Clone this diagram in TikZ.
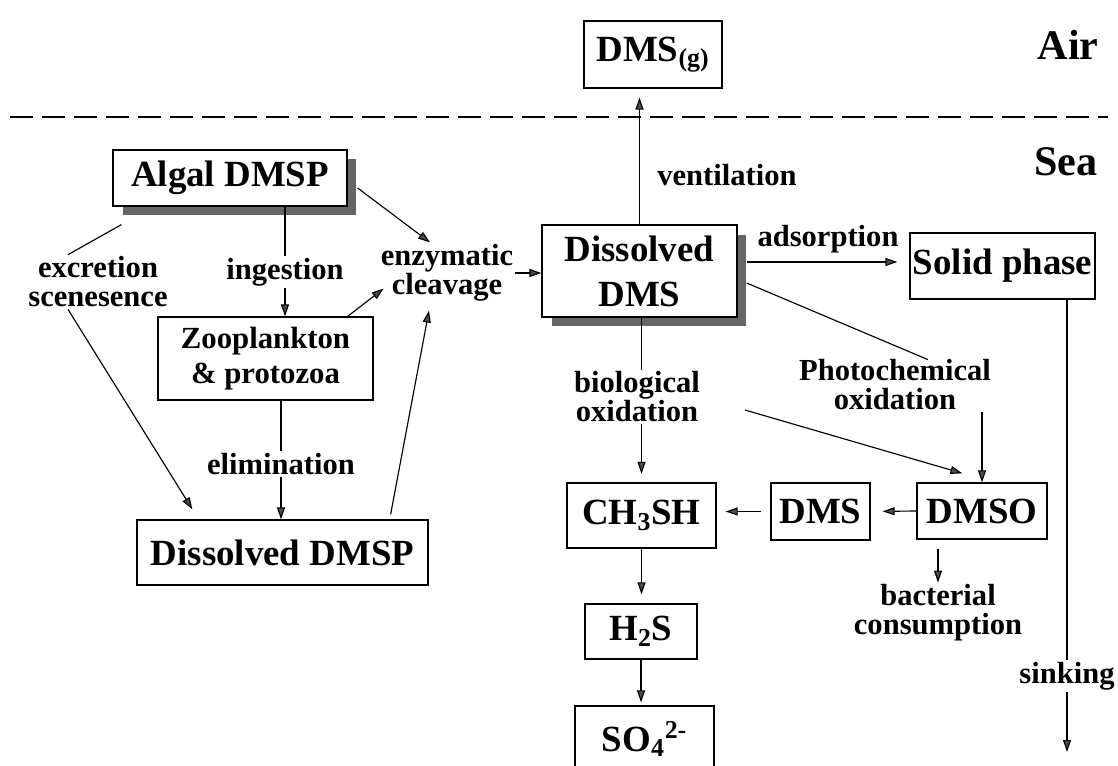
\documentclass[tikz,border=0pt]{standalone}
\usepackage{fontspec}
\setmainfont{Liberation Serif}
\usetikzlibrary{arrows.meta, calc, shadows}

\begin{document}
\begin{tikzpicture}[x=0.02cm, y=-0.02cm,
  box/.style={draw, line width=0.75pt, fill=white, inner sep=0pt, align=center,
    font=\fontsize{21}{25.6}\selectfont\bfseries},
  shadowed/.style={drop shadow={shadow xshift=0.19cm, shadow yshift=-0.19cm,
    fill=black!60, opacity=1}},
  lbl/.style={inner sep=1pt, align=center, font=\fontsize{17.4}{16.5}\selectfont\bfseries},
  zone/.style={inner sep=0pt, font=\fontsize{24}{26}\selectfont\bfseries},
  ln/.style={line width=0.65pt},
  arr/.style={ln, -{Triangle[length=0.24cm, width=0.16cm, fill=black!70]}},
  sealine/.style={line width=1.1pt, dash pattern=on 0.46cm off 0.18cm}]
\useasboundingbox (0,0) rectangle (1118,766);

% boxes
\node[box, minimum width=2.76cm, minimum height=1.34cm] (dmsg) at (653,54.5) {DMS\textsubscript{(g)}};
\node[box, shadowed, minimum width=4.68cm, minimum height=1.12cm] (algal) at (230,178) {Algal DMSP};
\node[box, minimum width=4.3cm, minimum height=1.66cm, font=\fontsize{17.5}{20}\selectfont\bfseries] (zoo) at (265.5,358.5) {Zooplankton\\\& protozoa};
\node[box, minimum width=5.82cm, minimum height=1.3cm] (ddmsp) at (282.5,552.5) {Dissolved DMSP};
\node[box, shadowed, minimum width=3.9cm, minimum height=1.84cm] (ddms) at (639.5,271) {Dissolved\\DMS};
\node[box, minimum width=3.7cm, minimum height=1.32cm] (solid) at (1002.5,266) {Solid phase};
\node[box, minimum width=2.98cm, minimum height=1.3cm] (ch3sh) at (641.5,515.5) {CH\textsubscript{3}SH};
\node[box, minimum width=1.98cm, minimum height=1.14cm] (dms) at (820.5,511.5) {DMS};
\node[box, minimum width=2.6cm, minimum height=1.12cm] (dmso) at (982,511) {DMSO};
\node[box, minimum width=2.24cm, minimum height=1.1cm] (h2s) at (641,631.5) {H\textsubscript{2}S};
\node[box, minimum width=2.78cm, minimum height=1.32cm] (so4) at (644.5,739) {SO\textsubscript{4}\textsuperscript{2-}};

% labels
\node[zone] (air) at (1068,45) {Air};
\node[zone] (sea) at (1066,162) {Sea};
\node[lbl] (vent) at (727,175) {ventilation};
\node[lbl] (exc) at (98,282) {excretion\\scenesence};
\node[lbl] (ing) at (285,272) {ingestion};
\node[lbl] (enz) at (447,273) {enzymatic\\cleavage};
\node[lbl] (elim) at (281,464) {elimination};
\node[lbl] (ads) at (828,239) {adsorption};
\node[lbl] (bio) at (637,397) {biological\\oxidation};
\node[lbl] (photo) at (895,385) {Photochemical\\oxidation};
\node[lbl] (bact) at (938,613) {bacterial\\consumption};
\node[lbl] (sink) at (1067,676) {sinking};
\coordinate (seabed) at (1067,752);

% air-sea boundary
\draw[sealine] (10,117) -- (1108,117);

% DMSP side
\draw[arr, shorten >=0.18cm] (ddms.north) -- (ddms.north |- dmsg.south);
\draw[arr] ($(algal.east)+(10,10)$) -- ($(enz.north)+(-17,0)$);
\draw[ln] ($(algal.south west)+(9,18)$) -- ($(exc.north)+(-30,0)$);
\draw[arr] ($(exc.south)+(-30,0)$) -- ($(ddmsp.north west)+(56,-10)$);
\draw[ln] (algal.south -| ing.north) -- (ing.north);
\draw[arr] (ing.south) -- (zoo.north -| ing.south);
\draw[arr] ($(zoo.north east)+(-26,0)$) -- ($(enz.south west)+(5,-15)$);
\draw[ln] (zoo.south -| elim.north) -- (elim.north);
\draw[arr] (elim.south) -- (ddmsp.north -| elim.south);
\draw[arr] ($(ddmsp.north east)+(-38,-5)$) -- ($(enz.south)+(-18,7)$);
\draw[arr] (enz.east) -- (ddms.west |- enz.east);

% DMS side
\draw[arr] ($(ddms.east)+(9,-9)$) -- ($(solid.west)+(-12,-4)$);
\draw[ln] ($(ddms.east)+(9,12)$) -- ($(photo.north)+(33,2)$);
\draw[arr] (photo.south -| dmso.north) -- (dmso.north);
\draw[ln] (ch3sh.north |- ddms.south) -- (ch3sh.north |- bio.north);
\draw[arr, shorten >=0.17cm] (ch3sh.north |- bio.south) -- (ch3sh.north);
\draw[arr] ($(bio.east)+(43,13)$) -- ($(dmso.north west)+(46,-9)$);
\draw[arr, shorten >=0.24cm] (dmso.west) -- (dms.east);
\draw[arr, shorten <=0.18cm, shorten >=0.18cm] (dms.west) -- (ch3sh.east |- dms.west);
\draw[arr, shorten <=0.18cm] (dmso.south -| bact.north) -- (bact.north);
\draw[arr, shorten >=0.18cm] (ch3sh.south) -- (h2s.north -| ch3sh.south);
\draw[arr, shorten >=0.06cm] (h2s.south) -- (so4.north -| h2s.south);
\draw[ln] (solid.south -| sink.north) -- (sink.north);
\draw[arr] (sink.south) -- (seabed);
\end{tikzpicture}
\end{document}
